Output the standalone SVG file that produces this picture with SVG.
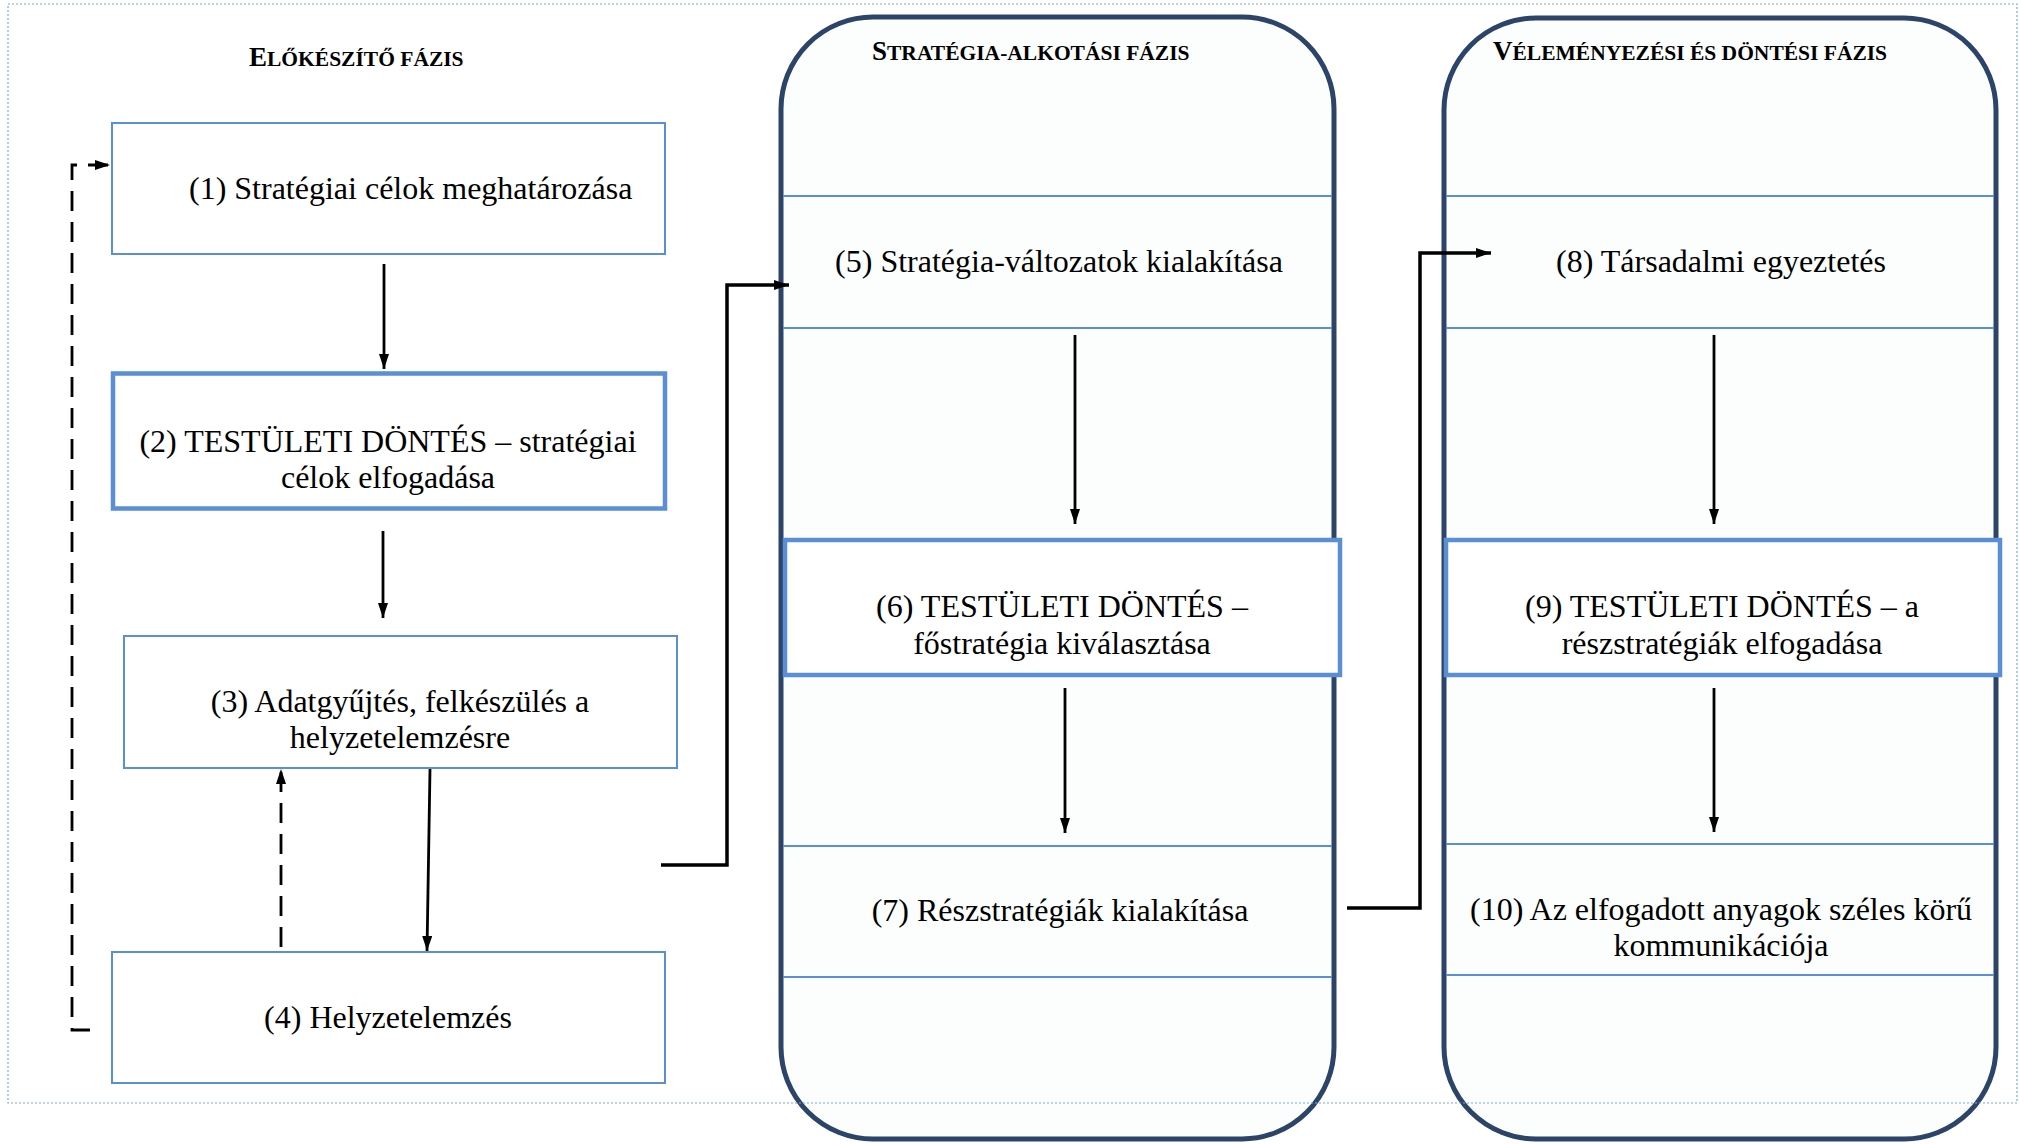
<svg xmlns="http://www.w3.org/2000/svg" width="2020" height="1144" viewBox="0 0 2020 1144">
<defs>
<marker id="ah" viewBox="0 0 15 10" refX="15" refY="5" markerWidth="15" markerHeight="10" markerUnits="userSpaceOnUse" orient="auto"><path d="M0,0 L15,5 L0,10 z" fill="#000"/></marker>
<style>
.t{font-family:"Liberation Serif","Times New Roman",serif;font-size:32px;fill:#000}
.c{text-anchor:middle}
.h{font-family:"Liberation Serif","Times New Roman",serif;font-weight:bold;fill:#000}
.big{font-size:27px}
.sm{font-size:21.5px}
.box{fill:#fff;stroke:#5b8fd5;stroke-width:2}
.dec{fill:#fff;stroke:#5b8fd5;stroke-width:4.5}
.cont{fill:#fcfefe;stroke:#2b4468;stroke-width:5}
.sep{stroke:#5b8fd5;stroke-width:2}
.arr{fill:none;stroke:#000;stroke-width:2.8;marker-end:url(#ah)}
.con{fill:none;stroke:#000;stroke-width:3.5}
.dash{stroke-dasharray:20 11}
</style>
</defs>
<rect width="2020" height="1144" fill="#fff"/>

<g id="phase1">
<text class="h" x="249" y="66"><tspan class="big">E</tspan><tspan class="sm">LŐKÉSZÍTŐ FÁZIS</tspan></text>
</g>

<g id="phase2">
<rect class="cont" x="781" y="17" width="553" height="1122" rx="92" ry="92"/>
<line class="sep" x1="783" y1="196" x2="1332" y2="196"/>
<line class="sep" x1="783" y1="328" x2="1332" y2="328"/>
<line class="sep" x1="783" y1="846" x2="1332" y2="846"/>
<line class="sep" x1="783" y1="977" x2="1332" y2="977"/>
<text class="h" x="872" y="60"><tspan class="big">S</tspan><tspan class="sm">TRATÉGIA-ALKOTÁSI FÁZIS</tspan></text>
</g>

<g id="phase3">
<rect class="cont" x="1444" y="18" width="552" height="1121" rx="92" ry="92"/>
<line class="sep" x1="1446" y1="196" x2="1994" y2="196"/>
<line class="sep" x1="1446" y1="328" x2="1994" y2="328"/>
<line class="sep" x1="1446" y1="844" x2="1994" y2="844"/>
<line class="sep" x1="1446" y1="975" x2="1994" y2="975"/>
<text class="h" x="1493" y="60"><tspan class="big">V</tspan><tspan class="sm">ÉLEMÉNYEZÉSI ÉS DÖNTÉSI FÁZIS</tspan></text>
</g>

<g id="n1">
<rect class="box" x="112" y="123" width="553" height="131"/>
<text class="t" x="189" y="199">(1) Stratégiai célok meghatározása</text>
</g>

<g id="n2">
<rect class="dec" x="113" y="373.5" width="552" height="135"/>
<text class="t c" x="388" y="452">(2) TESTÜLETI DÖNTÉS – stratégiai</text>
<text class="t c" x="388" y="488">célok elfogadása</text>
</g>

<g id="n3">
<rect class="box" x="124" y="636" width="553" height="132"/>
<text class="t c" x="400" y="712">(3) Adatgyűjtés, felkészülés a</text>
<text class="t c" x="400" y="748">helyzetelemzésre</text>
</g>

<g id="n4">
<rect class="box" x="112" y="952" width="553" height="131"/>
<text class="t c" x="388" y="1028">(4) Helyzetelemzés</text>
</g>

<g id="n5">
<text class="t c" x="1059" y="272">(5) Stratégia-változatok kialakítása</text>
</g>

<g id="n6">
<rect class="dec" x="785" y="540" width="555" height="135"/>
<text class="t c" x="1062" y="617">(6) TESTÜLETI DÖNTÉS –</text>
<text class="t c" x="1062" y="654">főstratégia kiválasztása</text>
</g>

<g id="n7">
<text class="t c" x="1060" y="921">(7) Részstratégiák kialakítása</text>
</g>

<g id="n8">
<text class="t c" x="1721" y="272">(8) Társadalmi egyeztetés</text>
</g>

<g id="n9">
<rect class="dec" x="1446" y="540" width="554" height="135"/>
<text class="t c" x="1722" y="617">(9) TESTÜLETI DÖNTÉS – a</text>
<text class="t c" x="1722" y="654">részstratégiák elfogadása</text>
</g>

<g id="n10">
<text class="t c" x="1721" y="920">(10) Az elfogadott anyagok széles körű</text>
<text class="t c" x="1721" y="956">kommunikációja</text>
</g>

<g id="connectors">
<path class="arr" d="M384 264 V369"/>
<path class="arr" d="M383 531 V618"/>
<path class="arr" d="M430 769 L427 951"/>
<path class="arr dash" d="M281 947 V769"/>
<path class="arr dash" d="M90 1030 H72 V165 H110"/>
<path class="con" d="M661 865 H727 V285 H789" marker-end="url(#ah)"/>
<path class="arr" d="M1075 335 V524"/>
<path class="arr" d="M1065 688 V833"/>
<path class="con" d="M1347 908 H1420 V253 H1491" marker-end="url(#ah)"/>
<path class="arr" d="M1714 335 V524"/>
<path class="arr" d="M1714 688 V832"/>
</g>

<rect x="8" y="4" width="2009" height="1099" fill="none" stroke="#7fa6dc" stroke-width="1.2" stroke-dasharray="2 2"/>
</svg>
